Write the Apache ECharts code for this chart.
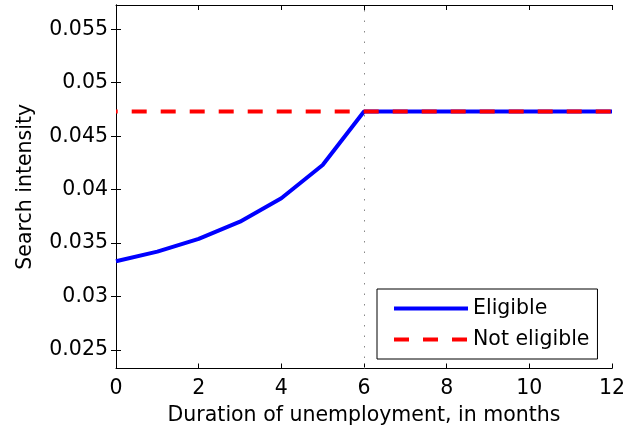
<!DOCTYPE html>
<html>
<head>
<meta charset="utf-8">
<script src="https://cdn.jsdelivr.net/npm/echarts@6/dist/echarts.min.js"></script>
<style>
html,body{margin:0;padding:0;background:#fff;}
#chart{width:637px;height:438px;}
</style>
</head>
<body>
<div id="chart"></div>
<script>
const months = [0,1,2,3,4,5,6,7,8,9,10,11,12];
const eligible = [0.0333,0.0342,0.0354,0.0370,0.0392,0.0423,0.0473,0.0473,0.0473,0.0473,0.0473,0.0473,0.0473];
const notEligible = [0.0473,0.0473,0.0473,0.0473,0.0473,0.0473,0.0473,0.0473,0.0473,0.0473,0.0473,0.0473,0.0473];
const yTicks = [0.025,0.03,0.035,0.04,0.045,0.05,0.055];
const yTickLabels = ['0.025','0.03','0.035','0.04','0.045','0.05','0.055'];
const xTicks = [0,2,4,6,8,10,12];
const cutoffMonth = 6;

const FONT = 'DejaVu Sans';
const FS = 20.5;
const yMin = 0.02327, yMax = 0.05727;

const chart = echarts.init(document.getElementById('chart'));
const axisLine = {show:true, lineStyle:{color:'#000', width:1}};
const tickIn = {show:true, inside:true, length:5, lineStyle:{color:'#000', width:1}};

chart.setOption({
  animation:false,
  backgroundColor:'#fff',
  grid:{left:116, top:5, right:25, bottom:69.5, show:true, backgroundColor:'#fff', borderWidth:0},
  legend:{
    orient:'vertical', left:377, top:289,
    padding:[9,8,9,15], itemWidth:74, itemHeight:20, itemGap:10,
    borderColor:'#000', borderWidth:1, backgroundColor:'#fff',
    textStyle:{fontFamily:FONT, fontSize:FS, color:'#000'},
    itemStyle:{opacity:0, borderWidth:0},
    data:[
      {name:'Eligible', itemStyle:{opacity:0, borderWidth:0}, lineStyle:{color:'#0000ff', width:4, type:'solid'}},
      {name:'Not eligible', itemStyle:{opacity:0, borderWidth:0}, lineStyle:{color:'#ff0000', width:4, type:[15,14], dashOffset:0}}
    ]
  },
  xAxis:[
    {type:'value', min:0, max:12, interval:2, position:'bottom',
     axisLine:axisLine, axisTick:tickIn, splitLine:{show:false},
     axisLabel:{fontFamily:FONT, fontSize:FS, color:'#000', margin:10},
     name:'Duration of unemployment, in months', nameLocation:'middle', nameGap:37,
     nameTextStyle:{fontFamily:FONT, fontSize:FS, color:'#000'}},
    {type:'value', min:0, max:12, interval:2, position:'top',
     axisLine:axisLine, axisTick:tickIn, axisLabel:{show:false}, splitLine:{show:false}}
  ],
  yAxis:[
    {type:'value', min:yMin, max:yMax, position:'left',
     axisLine:axisLine, splitLine:{show:false},
     axisTick:Object.assign({}, tickIn, {customValues:yTicks}),
     axisLabel:{fontFamily:FONT, fontSize:FS, color:'#000', margin:8, customValues:yTicks,
       formatter:function(v){ const i = yTicks.findIndex(t=>Math.abs(t-v)<1e-9); return i>=0 ? yTickLabels[i] : ''; }},
     name:'Search intensity', nameLocation:'middle', nameGap:80, nameRotate:90,
     nameTextStyle:{fontFamily:FONT, fontSize:FS, color:'#000'}},
    {type:'value', min:yMin, max:yMax, position:'right',
     axisLine:axisLine, splitLine:{show:false},
     axisTick:Object.assign({}, tickIn, {customValues:yTicks}),
     axisLabel:{show:false}}
  ],
  series:[
    {name:'Eligible', type:'line', symbol:'none', xAxisIndex:0, yAxisIndex:0,
     data:months.map((m,i)=>[m, eligible[i]]),
     lineStyle:{color:'#0000ff', width:4}, itemStyle:{color:'#0000ff'},
     markLine:{silent:true, symbol:'none', label:{show:false},
       lineStyle:{color:'#888', width:1, type:[1.5,9]},
       data:[{xAxis:cutoffMonth}]}},
    {name:'Not eligible', type:'line', symbol:'none', xAxisIndex:0, yAxisIndex:0,
     data:months.map((m,i)=>[m, notEligible[i]]),
     lineStyle:{color:'#ff0000', width:4, type:[15,14], dashOffset:13.3}, itemStyle:{color:'#ff0000'}}
  ]
});
</script>
</body>
</html>
